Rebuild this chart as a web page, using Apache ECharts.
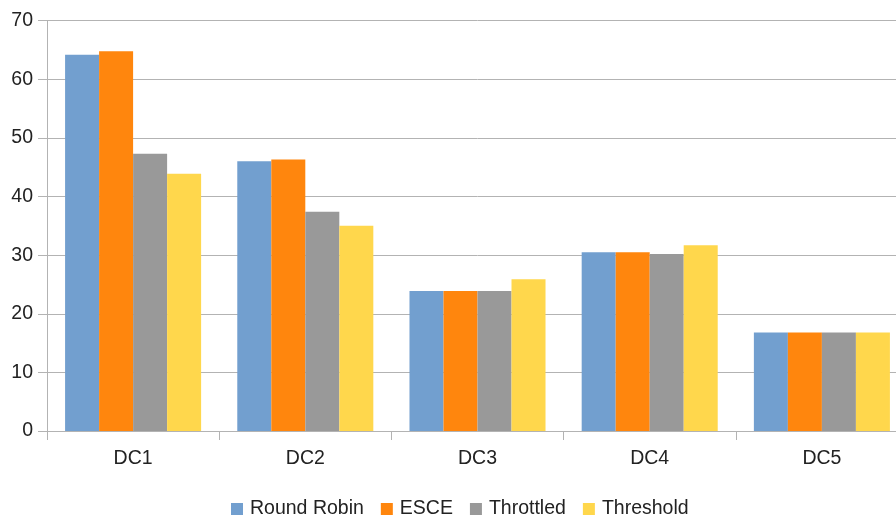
<!DOCTYPE html>
<html>
<head>
<meta charset="utf-8">
<script src="https://cdn.jsdelivr.net/npm/echarts@6/dist/echarts.min.js"></script>
<style>
  html, body { margin: 0; padding: 0; background: #fff; overflow: hidden; width: 896px; height: 518px; }
  /* the drawing is a little wider than the window; its right edge is cut off */
  #chart { width: 908px; height: 518px; }
</style>
</head>
<body>
<div id="chart"></div>
<script>
const categories = ['DC1', 'DC2', 'DC3', 'DC4', 'DC5'];
const roundRobin = [64.2, 46.0, 23.9, 30.5, 16.8];
const esce       = [64.8, 46.3, 23.9, 30.5, 16.8];
const throttled  = [47.3, 37.4, 23.9, 30.2, 16.8];
const threshold  = [43.9, 35.0, 25.9, 31.7, 16.8];
const yTicks = { min: 0, max: 70, interval: 10 };

const font = 'Liberation Sans, Arial, sans-serif';
const gridColor = '#b3b3b3';

function bar(name, data, color) {
  return {
    name, type: 'bar', data,
    barGap: '0%', barCategoryGap: '21%',
    itemStyle: { color },
    emphasis: { disabled: true }
  };
}

const chart = echarts.init(document.getElementById('chart'), null, { renderer: 'canvas' });
chart.setOption({
  animation: false,
  backgroundColor: '#ffffff',
  grid: { left: 47, right: 0, top: 20.7, bottom: 87, containLabel: false },
  legend: {
    left: 226, top: 494,
    itemWidth: 12, itemHeight: 12, itemGap: 17,
    icon: 'rect',
    textStyle: { fontFamily: font, fontSize: 19.5, color: '#222', padding: [0, 0, 0, 2] },
    data: ['Round Robin', 'ESCE', 'Throttled', 'Threshold']
  },
  xAxis: {
    type: 'category', data: categories,
    axisLine: { lineStyle: { color: gridColor, width: 1 } },
    axisTick: { show: true, length: 9, lineStyle: { color: gridColor } },
    axisLabel: { fontFamily: font, fontSize: 19.5, color: '#222', margin: 18 }
  },
  yAxis: {
    type: 'value', min: yTicks.min, max: yTicks.max, interval: yTicks.interval,
    axisLine: { show: true, lineStyle: { color: gridColor, width: 1 } },
    axisTick: { show: true, length: 9, lineStyle: { color: gridColor } },
    axisLabel: { fontFamily: font, fontSize: 19.5, color: '#222', margin: 14 },
    splitLine: { lineStyle: { color: gridColor, width: 1 } }
  },
  series: [
    bar('Round Robin', roundRobin, '#729fcf'),
    bar('ESCE', esce, '#ff860d'),
    bar('Throttled', throttled, '#999999'),
    bar('Threshold', threshold, '#ffd74c')
  ]
});
</script>
</body>
</html>
